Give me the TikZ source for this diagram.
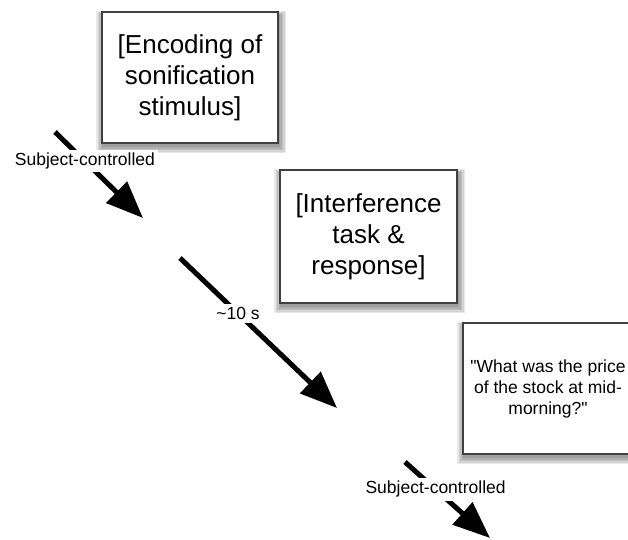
\documentclass[tikz,border=0pt]{standalone}
\usepackage{fontspec}
\setmainfont{Liberation Sans}
\usetikzlibrary{arrows.meta, backgrounds}

\begin{document}
\begin{tikzpicture}[
        x=1pt, y=-1pt,
        box/.style={draw=black!75, line width=1.2pt, fill=white, align=center,
            font=\fontsize{26}{31}\selectfont},
        flow/.style={-{Triangle[length=37pt, width=29pt]}, line width=5pt},
        lbl/.style={fill=white, inner sep=3pt, font=\fontsize{17.5}{21}\selectfont}
    ]
        \useasboundingbox (0,0) rectangle (628,539);

        % Kaesten
        \path
            (190,77.5)  node[box, minimum width=176pt, minimum height=131pt] (enc)
                {[Encoding of\\ sonification\\ stimulus]}
            (368.5,236.5) node[box, minimum width=177pt, minimum height=133pt] (intf)
                {[Interference\\ task \&\\ response]}
            (548,388.5) node[box, minimum width=170pt, minimum height=131pt,
                font=\fontsize{17.5}{21}\selectfont] (quest)
                {\textquotedbl What was the price\\ of the stock at mid-\\ morning?\textquotedbl};

        % weiche Schatten
        \begin{scope}[on background layer]
            \foreach \n in {enc,intf,quest}
                \foreach \e in {0,1.5,3,4.5,6}
                    \fill[black, opacity=0.09]
                        ([shift={(1-\e,3-\e*0.6)}]\n.north west)
                        rectangle ([shift={(1.5+\e,3.5+\e)}]\n.south east);
        \end{scope}

        % Pfeile
        \coordinate (s1) at (55,132);  \coordinate (e1) at (143,218);
        \coordinate (s2) at (180,258); \coordinate (e2) at (337,408);
        \coordinate (s3) at (405,462); \coordinate (e3) at (490,538);

        \draw[flow] (s1) -- (e1) node[lbl, pos=0.34] {Subject-controlled};
        \draw[flow] (s2) -- (e2) node[lbl, pos=0.37] {\textasciitilde10 s};
        \draw[flow] (s3) -- (e3) node[lbl, pos=0.36] {Subject-controlled};
    \end{tikzpicture}
\end{document}
